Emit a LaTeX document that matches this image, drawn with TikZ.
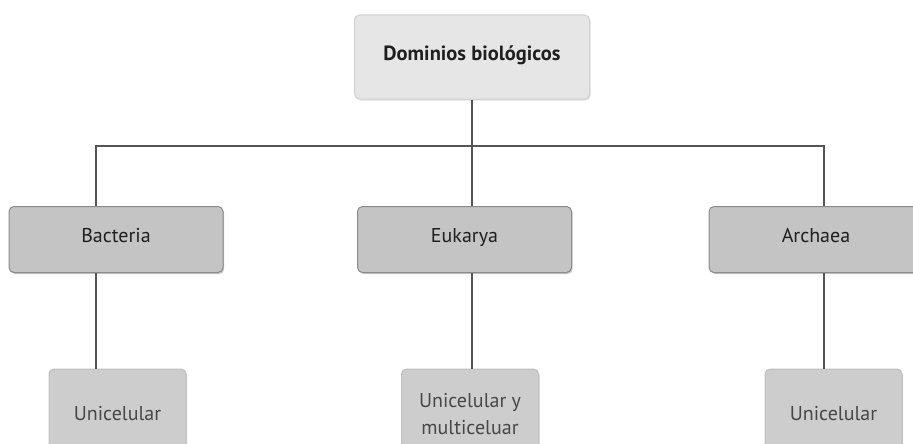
\documentclass[tikz,border=0pt]{standalone}
\usepackage{fontspec}
\setmainfont{PT Sans}
\usetikzlibrary{shadows}

\definecolor{linegray}{HTML}{555555}
\definecolor{rootfill}{HTML}{E6E6E6}
\definecolor{domfill}{HTML}{C4C4C4}
\definecolor{typefill}{HTML}{CDCDCD}

\tikzset{
  link/.style={draw=linegray, line width=1.6pt},
  rootbox/.style={draw=black!18, fill=rootfill, rounded corners=5pt, line width=1pt,
    minimum width=235pt, minimum height=84pt, text=black!88,
    text height=1.45ex, text depth=0.25ex,
    font=\fontsize{20.5}{24}\selectfont\bfseries,
    drop shadow={shadow xshift=1.2pt, shadow yshift=-1.5pt, fill=black!25}},
  dombox/.style={draw=black!45, fill=domfill, rounded corners=5pt, line width=1pt,
    minimum width=214pt, minimum height=66pt, text=black!88,
    text height=1.45ex, text depth=0.25ex,
    font=\fontsize{20}{24}\selectfont,
    drop shadow={shadow xshift=1.2pt, shadow yshift=-1.5pt, fill=black!45}},
  typebox/.style={draw=black!25, fill=typefill, rounded corners=5pt, line width=1pt,
    minimum width=137pt, minimum height=90pt, text=black!72, align=center,
    font=\fontsize{20}{27}\selectfont,
    drop shadow={shadow xshift=1.2pt, shadow yshift=-1.5pt, fill=black!40}}
}

\begin{document}
\begin{tikzpicture}[x=1pt, y=-1pt]
    \useasboundingbox (0,0) rectangle (913,444);
    \clip (0,0) rectangle (913,444);

    % Root
    \node[rootbox] (root) at (472,57) {Dominios biológicos};

    % Domains
    \node[dombox] (bact) at (116,239.5) {Bacteria};
    \node[dombox] (euk) at (464.5,239.5) {Eukarya};
    \node[dombox] (arch) at (816,239.5) {Archaea};

    % Cell types
    \node[typebox] (uni1) at (117.5,414) {Unicelular};
    \node[typebox] (multi) at (470,414) {Unicelular y\\multiceluar};
    \node[typebox] (uni2) at (833.5,414) {Unicelular};

    % Connectors
    \coordinate (left) at (96,146);
    \coordinate (hub) at (472,146);
    \coordinate (right) at (824,146);
    \draw[link] (root.south) -- (hub);
    \draw[link] (bact.north -| left) -- (left) -- (right) -- (arch.north -| right);
    \draw[link] (hub) -- (euk.north -| hub);
    \draw[link] (bact.south -| left) -- (uni1.north -| left);
    \draw[link] (euk.south -| hub) -- (multi.north -| hub);
    \draw[link] (arch.south -| right) -- (uni2.north -| right);
\end{tikzpicture}
\end{document}
